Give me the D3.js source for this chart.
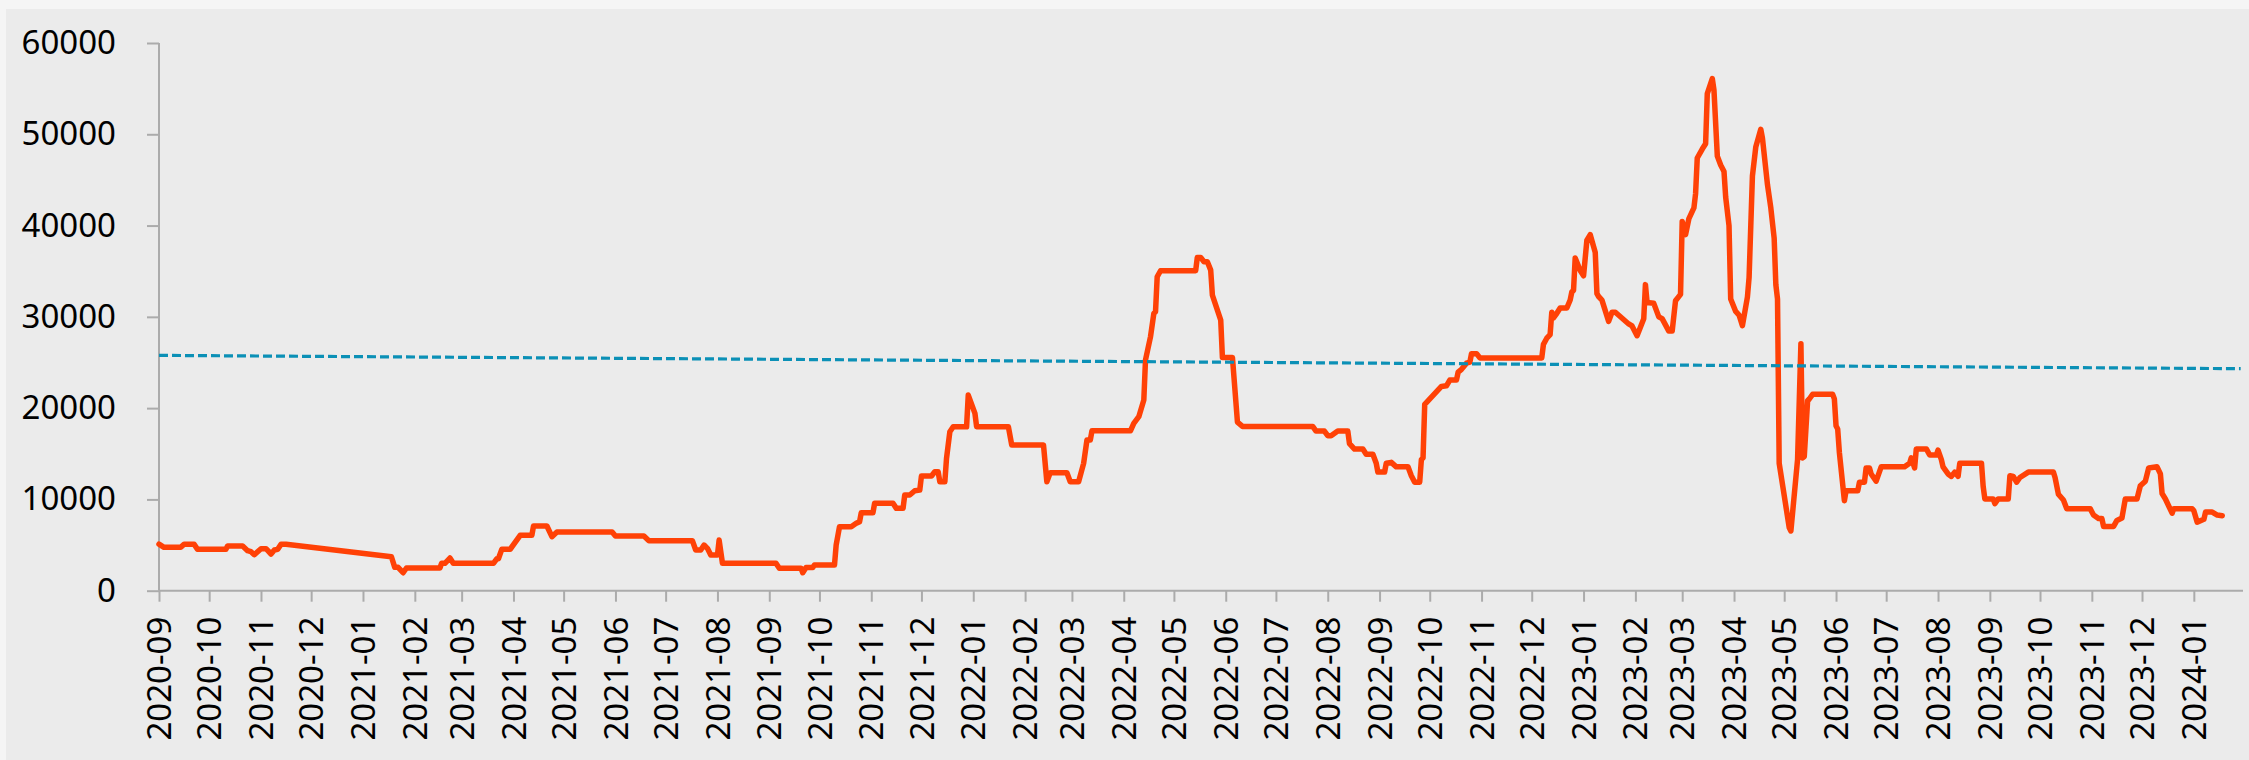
<!DOCTYPE html>
<html>
<head>
<meta charset="utf-8">
<script src="https://cdn.jsdelivr.net/npm/d3@7"></script>
<style>
  body { margin: 0; background: #f5f5f5; }
  text { font-family: "Noto Sans", "Open Sans", sans-serif; }
</style>
</head>
<body>
<svg id="chart" width="2249" height="760"></svg>
<script>
// daily series, breakpoints
const dates = [
  "2020-09-01", "2020-09-04", "2020-09-14", "2020-09-16", "2020-09-22", "2020-09-24",
  "2020-10-11", "2020-10-12", "2020-10-21", "2020-10-24", "2020-10-26", "2020-10-28",
  "2020-11-01", "2020-11-04", "2020-11-07", "2020-11-09", "2020-11-11", "2020-11-13",
  "2020-11-16", "2021-01-18", "2021-01-20", "2021-01-22", "2021-01-25", "2021-01-27",
  "2021-02-16", "2021-02-17", "2021-02-19", "2021-02-22", "2021-02-24", "2021-03-20",
  "2021-03-22", "2021-03-23", "2021-03-25", "2021-03-30", "2021-04-05", "2021-04-12",
  "2021-04-13", "2021-04-21", "2021-04-24", "2021-04-27", "2021-05-30", "2021-06-01",
  "2021-06-18", "2021-06-21", "2021-07-17", "2021-07-19", "2021-07-22", "2021-07-24",
  "2021-07-26", "2021-07-28", "2021-08-01", "2021-08-02", "2021-08-04", "2021-09-05",
  "2021-09-07", "2021-09-20", "2021-09-21", "2021-09-23", "2021-09-27", "2021-09-28",
  "2021-10-10", "2021-10-11", "2021-10-13", "2021-10-20", "2021-10-23", "2021-10-25",
  "2021-10-26", "2021-11-02", "2021-11-03", "2021-11-14", "2021-11-16", "2021-11-20",
  "2021-11-21", "2021-11-24", "2021-11-27", "2021-11-30", "2021-12-01", "2021-12-07",
  "2021-12-09", "2021-12-11", "2021-12-12", "2021-12-15", "2021-12-16", "2021-12-18",
  "2021-12-20", "2021-12-28", "2021-12-29", "2022-01-02", "2022-01-03", "2022-01-22",
  "2022-01-24", "2022-02-12", "2022-02-14", "2022-02-16", "2022-02-26", "2022-02-28",
  "2022-03-05", "2022-03-08", "2022-03-10", "2022-03-12", "2022-03-13", "2022-04-05",
  "2022-04-07", "2022-04-10", "2022-04-13", "2022-04-14", "2022-04-17", "2022-04-19",
  "2022-04-20", "2022-04-21", "2022-04-23", "2022-05-14", "2022-05-15", "2022-05-17",
  "2022-05-19", "2022-05-21", "2022-05-23", "2022-05-24", "2022-05-29", "2022-05-30",
  "2022-06-05", "2022-06-08", "2022-06-11", "2022-07-23", "2022-07-25", "2022-07-30",
  "2022-08-01", "2022-08-03", "2022-08-07", "2022-08-13", "2022-08-14", "2022-08-17",
  "2022-08-22", "2022-08-24", "2022-08-28", "2022-08-30", "2022-08-31", "2022-09-04",
  "2022-09-05", "2022-09-08", "2022-09-11", "2022-09-18", "2022-09-20", "2022-09-22",
  "2022-09-25", "2022-09-26", "2022-09-27", "2022-09-28", "2022-10-08", "2022-10-11",
  "2022-10-13", "2022-10-17", "2022-10-18", "2022-10-20", "2022-10-23", "2022-10-25",
  "2022-10-26", "2022-10-29", "2022-10-31", "2022-12-07", "2022-12-08", "2022-12-10",
  "2022-12-12", "2022-12-13", "2022-12-14", "2022-12-16", "2022-12-18", "2022-12-22",
  "2022-12-24", "2022-12-25", "2022-12-26", "2022-12-27", "2022-12-30", "2023-01-01",
  "2023-01-03", "2023-01-05", "2023-01-08", "2023-01-09", "2023-01-10", "2023-01-12",
  "2023-01-16", "2023-01-18", "2023-01-20", "2023-01-28", "2023-01-30", "2023-02-02",
  "2023-02-06", "2023-02-07", "2023-02-08", "2023-02-12", "2023-02-15", "2023-02-17",
  "2023-02-21", "2023-02-23", "2023-02-25", "2023-02-28", "2023-03-01", "2023-03-03",
  "2023-03-05", "2023-03-08", "2023-03-09", "2023-03-10", "2023-03-13", "2023-03-15",
  "2023-03-16", "2023-03-19", "2023-03-20", "2023-03-22", "2023-03-24", "2023-03-26",
  "2023-03-27", "2023-03-29", "2023-03-30", "2023-04-02", "2023-04-04", "2023-04-06",
  "2023-04-09", "2023-04-10", "2023-04-12", "2023-04-14", "2023-04-17", "2023-04-18",
  "2023-04-21", "2023-04-23", "2023-04-25", "2023-04-26", "2023-04-27", "2023-04-28",
  "2023-05-04", "2023-05-05", "2023-05-09", "2023-05-11", "2023-05-12", "2023-05-13",
  "2023-05-15", "2023-05-16", "2023-05-18", "2023-05-30", "2023-05-31", "2023-06-01",
  "2023-06-02", "2023-06-03", "2023-06-06", "2023-06-07", "2023-06-14", "2023-06-15",
  "2023-06-18", "2023-06-19", "2023-06-21", "2023-06-22", "2023-06-25", "2023-06-26",
  "2023-06-28", "2023-07-12", "2023-07-15", "2023-07-16", "2023-07-18", "2023-07-19",
  "2023-07-25", "2023-07-27", "2023-07-31", "2023-08-01", "2023-08-03", "2023-08-04",
  "2023-08-07", "2023-08-09", "2023-08-11", "2023-08-13", "2023-08-14", "2023-08-27",
  "2023-08-28", "2023-08-29", "2023-09-03", "2023-09-04", "2023-09-06", "2023-09-12",
  "2023-09-13", "2023-09-15", "2023-09-17", "2023-09-19", "2023-09-24", "2023-10-09",
  "2023-10-10", "2023-10-12", "2023-10-15", "2023-10-17", "2023-10-31", "2023-11-02",
  "2023-11-05", "2023-11-07", "2023-11-08", "2023-11-14", "2023-11-16", "2023-11-19",
  "2023-11-21", "2023-11-28", "2023-11-30", "2023-12-03", "2023-12-05", "2023-12-10",
  "2023-12-12", "2023-12-13", "2023-12-15", "2023-12-19", "2023-12-20", "2023-12-31",
  "2024-01-01", "2024-01-03", "2024-01-07", "2024-01-08", "2024-01-12", "2024-01-15",
  "2024-01-18",
];
const values = [
  5100, 4750, 4750, 5100, 5100, 4530,
  4530, 4900, 4900, 4380, 4270, 3940,
  4600, 4600, 4020, 4460, 4530, 5100,
  5100, 3720, 2560, 2560, 1970, 2490,
  2490, 3000, 3000, 3580, 3000, 3000,
  3500, 3500, 4530, 4530, 6070, 6070,
  7090, 7090, 5920, 6430, 6430, 5990,
  5990, 5480, 5480, 4460, 4460, 5000,
  4640, 3910, 3910, 5550, 3000, 3000,
  2450, 2450, 1970, 2530, 2530, 2810,
  2810, 5000, 7010, 7010, 7380, 7560,
  8540, 8540, 9570, 9570, 9020, 9020,
  10480, 10480, 10950, 11020, 12560, 12560,
  13030, 13030, 11940, 11940, 14500, 17420,
  17960, 17960, 21430, 19430, 17960, 17960,
  15960, 15960, 11940, 12930, 12930, 11940,
  11940, 13950, 16510, 16510, 17520, 17520,
  18330, 19060, 20890, 25270, 27820, 30380,
  30560, 34390, 35050, 35050, 36510, 36510,
  36040, 36040, 35120, 32390, 29650, 25560,
  25560, 18470, 18000, 18000, 17490, 17490,
  16980, 16980, 17490, 17490, 16110, 15520,
  15520, 14940, 14940, 13960, 12990, 12990,
  13960, 14060, 13570, 13570, 12600, 11890,
  11890, 14360, 14550, 20420, 22380, 22450,
  23080, 23080, 23940, 24250, 24920, 25030,
  25970, 25970, 25500, 25500, 26990, 27660,
  28050, 30510, 29880, 30390, 30970, 30970,
  31840, 32740, 32900, 36450, 35080, 34500,
  38410, 39000, 37040, 32540, 32230, 31840,
  29500, 30510, 30510, 29220, 29000, 27930,
  29800, 33530, 31570, 31480, 30000, 29800,
  28440, 28440, 31760, 32460, 40450, 39000,
  40760, 41930, 43490, 47400, 48380, 48970,
  54450, 56090, 54840, 47610, 46630, 45920,
  43110, 39980, 31960, 30590, 30200, 29030,
  32160, 34300, 45450, 48600, 50540, 49560,
  44480, 41930, 38610, 33530, 31960, 13960,
  6920, 6540, 14360, 27060, 14550, 14700,
  20810, 21000, 21510, 21510, 21010, 18070,
  17700, 15140, 9860, 10950, 10950, 11890,
  11890, 13450, 13450, 12790, 12000, 12520,
  13570, 13570, 13960, 14550, 13450, 15530,
  15530, 14860, 14860, 15410, 14360, 13570,
  12790, 12520, 12990, 12520, 13960, 13960,
  11420, 10050, 10050, 9540, 10050, 10050,
  12600, 12520, 11890, 12400, 12990, 12990,
  12400, 10560, 9930, 8990, 8990, 8290,
  7900, 7900, 7040, 7040, 7700, 7970,
  10050, 10050, 11500, 12000, 13450, 13570,
  12790, 10640, 10050, 8490, 8990, 8990,
  8760, 7510, 7820, 8610, 8610, 8290,
  8220,
];

// linear trend line end points
const trendDates = ["2020-09-01", "2024-01-29"];
const trendValues = [25780, 24320];

// axis range and tick values
const xDomain = ["2020-09-01", "2024-01-31"];
const yTicks = [0, 10000, 20000, 30000, 40000, 50000, 60000];

const parse = d3.timeParse("%Y-%m-%d");
const svg = d3.select("#chart");

// grey panel behind everything
svg
  .append("rect")
  .attr("x", 6)
  .attr("y", 9)
  .attr("width", 2243)
  .attr("height", 751)
  .attr("fill", "#ebebeb");

const x = d3
  .scaleTime()
  .domain(xDomain.map(parse))
  .range([159, 2244]);
const y = d3.scaleLinear().domain([0, 60000]).range([590.7, 43]);

// y axis
const yAxis = svg
  .append("g")
  .attr("transform", "translate(159,0)")
  .call(d3.axisLeft(y).tickValues(yTicks).tickSize(12).tickPadding(31).tickFormat(d3.format("d")));

// x axis, one tick per month
const monthTicks = d3.timeMonth.range(parse("2020-09-01"), parse("2024-01-02"));
const xAxis = svg
  .append("g")
  .attr("transform", "translate(0,590.7)")
  .call(d3.axisBottom(x).tickValues(monthTicks).tickSize(11).tickFormat(d3.timeFormat("%Y-%m")));

xAxis
  .selectAll("text")
  .attr("transform", "rotate(-90)")
  .attr("text-anchor", "end")
  .attr("x", -26)
  .attr("y", 0)
  .attr("dy", "0.35em");

[yAxis, xAxis].forEach((g) => {
  g.selectAll("path, line").attr("stroke", "#ababab").attr("stroke-width", 2);
  g.select(".domain").attr("d", g === yAxis ? "M0,590.7V43" : "M159,0H2243");
  g.selectAll("text").style("font-size", "33px").attr("fill", "#000");
});

// main series
const points = dates.map((d, i) => [parse(d), values[i]]);
const line = d3
  .line()
  .x((d) => x(d[0]))
  .y((d) => y(d[1]));

svg
  .append("path")
  .datum(points)
  .attr("d", line)
  .attr("fill", "none")
  .attr("stroke", "#ff4106")
  .attr("stroke-width", 5.5)
  .attr("stroke-linejoin", "round")
  .attr("stroke-linecap", "round");

// dashed trend
svg
  .append("path")
  .datum(trendDates.map((d, i) => [parse(d), trendValues[i]]))
  .attr("d", line)
  .attr("fill", "none")
  .attr("stroke", "#0b90b6")
  .attr("stroke-width", 3.2)
  .attr("stroke-dasharray", "9,4");
</script>
</body>
</html>
